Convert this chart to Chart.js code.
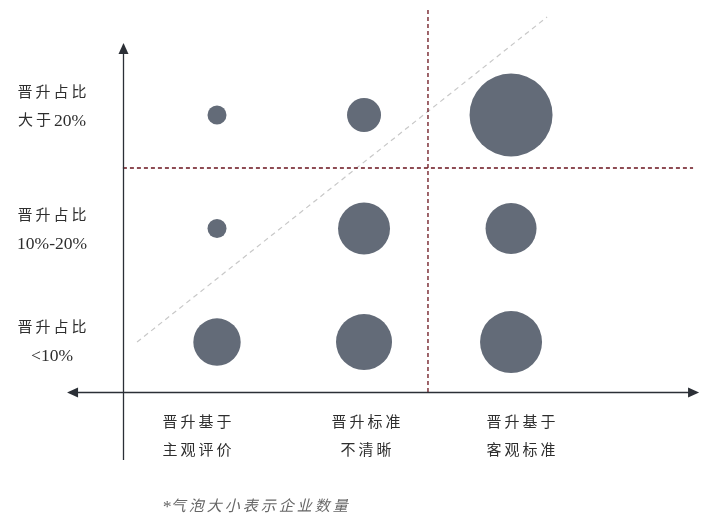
<!DOCTYPE html>
<html><head><meta charset="utf-8">
<script src="https://cdn.jsdelivr.net/npm/chart.js@4.4.1/dist/chart.umd.min.js"></script>
<style>html,body{margin:0;padding:0;background:#fff;overflow:hidden}</style>
</head><body>
<canvas id="c" width="711" height="519"></canvas>
<script>
// ---- data ----
const columns = [1, 2, 3];            // 晋升基于主观评价 / 晋升标准不清晰 / 晋升基于客观标准
const rows = [1, 2, 3];               // <10% / 10%-20% / 大于20%
const xCategoryLabels = [['晋升基于', '主观评价'], ['晋升标准', '不清晰'], ['晋升基于', '客观标准']];
const yCategoryLabels = [['晋升占比', '<10%'], ['晋升占比', '10%-20%'], ['晋升占比', '大于20%']];
const sizeLow  = [23.7, 28, 31];      // row <10%
const sizeMid  = [9.5, 26, 25.5];     // row 10%-20%
const sizeHigh = [9.5, 17, 41.5];     // row 大于20%
const footnote = '*气泡大小表示企业数量';
const xDivider = 2.435;
const yDivider = 2.533;
const trendStart = [0.456, 1.0];
const trendEnd = [3.245, 3.863];

// ---- layout ----
const X_MIN = -0.476, X_MAX = 4.36, Y_MIN = -0.559, Y_MAX = 4.013;
const AXIS_X = 0.36, AXIS_Y = 0.56;
const AXIS_TOP = 3.634, AXIS_BOTTOM = -0.04, AXIS_LEFT = -0.02, AXIS_RIGHT = 4.279;
const DIV_H_RIGHT = 4.238, DIV_V_TOP = 3.943;
const Y_LABEL_X = -0.122;
const yLabelShift = [0, 2, -8];
const xLabelShift = [-20, 2, 10];

const sizes = [sizeLow, sizeMid, sizeHigh];
const bubbles = [];
rows.forEach((ry, i) => columns.forEach((cx, j) => bubbles.push({x: cx, y: ry, r: sizes[i][j]})));

const FAM = "'Liberation Serif', 'Noto Sans CJK SC', serif";
const CJK_GAP = 3;

function isCJK(ch) { return /[\u3000-\u9fff\uff00-\uffef]/.test(ch); }
function fontFor(ch, italic) { return (italic ? 'italic ' : '') + (isCJK(ch) ? '15px ' : '17.5px ') + FAM; }
function advance(ctx, ch, italic) {
  ctx.font = fontFor(ch, italic);
  return ctx.measureText(ch).width + (isCJK(ch) ? CJK_GAP : 0);
}
function drawSpaced(ctx, text, x, y, align, italic) {
  const chars = [...text];
  let w = 0;
  chars.forEach(ch => { w += advance(ctx, ch, italic); });
  if (isCJK(chars[chars.length - 1])) w -= CJK_GAP;
  let cur = align === 'center' ? x - w / 2 : x;
  ctx.textAlign = 'left';
  chars.forEach(ch => {
    const a = advance(ctx, ch, italic);
    ctx.fillText(ch, cur, y);
    cur += a;
  });
}

function arrow(ctx, x, y, dir) {
  const L = 11, W = 5;
  ctx.beginPath();
  ctx.moveTo(x, y);
  if (dir === 'up') { ctx.lineTo(x - W, y + L); ctx.lineTo(x + W, y + L); }
  if (dir === 'left') { ctx.lineTo(x + L, y - W); ctx.lineTo(x + L, y + W); }
  if (dir === 'right') { ctx.lineTo(x - L, y - W); ctx.lineTo(x - L, y + W); }
  ctx.closePath();
  ctx.fill();
}

const decor = {
  id: 'decor',
  afterDraw(chart) {
    const ctx = chart.ctx, xs = chart.scales.x, ys = chart.scales.y;
    const px = v => xs.getPixelForValue(v), py = v => ys.getPixelForValue(v);
    ctx.save();
    ctx.strokeStyle = '#2b2f36';
    ctx.fillStyle = '#2b2f36';
    ctx.lineWidth = 1.3;
    const ax = Math.round(px(AXIS_X)) + 0.5, ay = Math.round(py(AXIS_Y)) + 0.5;
    // vertical axis
    ctx.beginPath();
    ctx.moveTo(ax, py(AXIS_BOTTOM));
    ctx.lineTo(ax, py(AXIS_TOP) + 6);
    ctx.stroke();
    arrow(ctx, ax, py(AXIS_TOP), 'up');
    // horizontal axis
    ctx.beginPath();
    ctx.moveTo(px(AXIS_LEFT) + 6, ay);
    ctx.lineTo(px(AXIS_RIGHT) - 6, ay);
    ctx.stroke();
    arrow(ctx, px(AXIS_LEFT), ay, 'left');
    arrow(ctx, px(AXIS_RIGHT), ay, 'right');

    // labels
    ctx.fillStyle = '#2e2e2e';
    ctx.textBaseline = 'middle';
    yCategoryLabels.forEach((lines, i) => {
      const cy = py(rows[i]) + yLabelShift[i];
      drawSpaced(ctx, lines[0], px(Y_LABEL_X), cy - 14, 'center');
      drawSpaced(ctx, lines[1], px(Y_LABEL_X), cy + 14, 'center');
    });
    xCategoryLabels.forEach((lines, i) => {
      const cx = px(columns[i]) + xLabelShift[i];
      drawSpaced(ctx, lines[0], cx, py(AXIS_Y) + 31, 'center');
      drawSpaced(ctx, lines[1], cx, py(AXIS_Y) + 59, 'center');
    });
    // footnote
    ctx.fillStyle = '#666666';
    drawSpaced(ctx, footnote, 162, 507, 'left', true);
    ctx.restore();
  }
};

new Chart(document.getElementById('c'), {
  type: 'bubble',
  data: {
    datasets: [
      {
        type: 'bubble',
        data: bubbles,
        backgroundColor: '#636b78',
        borderWidth: 0,
        hoverRadius: 0,
        order: 1
      },
      {
        type: 'line',
        data: [{x: trendStart[0], y: trendStart[1]}, {x: trendEnd[0], y: trendEnd[1]}],
        borderColor: '#c8c8c8',
        borderWidth: 1.2,
        borderDash: [5, 4],
        pointRadius: 0,
        order: 3
      },
      {
        type: 'line',
        data: [{x: AXIS_X, y: yDivider}, {x: DIV_H_RIGHT, y: yDivider}],
        borderColor: '#6a121c',
        borderWidth: 1.3,
        borderDash: [4, 3],
        pointRadius: 0,
        order: 2
      },
      {
        type: 'line',
        data: [{x: xDivider, y: AXIS_Y}, {x: xDivider, y: DIV_V_TOP}],
        borderColor: '#6a121c',
        borderWidth: 1.3,
        borderDash: [4, 3],
        pointRadius: 0,
        order: 2
      }
    ]
  },
  options: {
    responsive: false,
    animation: false,
    layout: {padding: 0, autoPadding: false},
    plugins: {legend: {display: false}, tooltip: {enabled: false}},
    scales: {
      x: {type: 'linear', display: false, min: X_MIN, max: X_MAX},
      y: {type: 'linear', display: false, min: Y_MIN, max: Y_MAX}
    }
  },
  plugins: [decor]
});
</script>
</body></html>
